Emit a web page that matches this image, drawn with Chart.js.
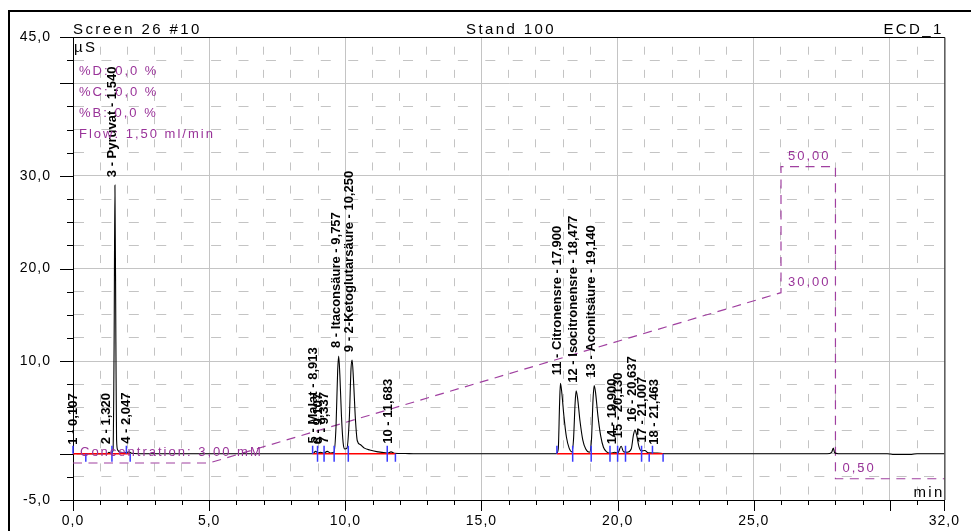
<!DOCTYPE html>
<html>
<head>
<meta charset="utf-8">
<script src="https://cdn.jsdelivr.net/npm/chart.js@4.4.1/dist/chart.umd.min.js"></script>
<style>
  body { margin: 0; background: #fff; }
  canvas { display: block; }
</style>
</head>
<body>
<canvas id="chart" width="971" height="531"></canvas>
<script>
const FONT = "'Liberation Sans', Arial, sans-serif";

// chromatogram trace: retention time (min) and conductivity (µS)
const traceTime = [0, 0.10, 0.20, 1.25, 1.32, 1.38, 1.47, 1.51, 1.54, 1.575, 1.60, 1.64, 1.75, 1.95, 2.05, 2.15, 2.40,
  8.80, 8.91, 9.00, 9.10, 9.20, 9.34, 9.45, 9.58, 9.66, 9.72, 9.757, 9.80, 9.86, 9.92, 9.98,
  10.06, 10.15, 10.21, 10.25, 10.30, 10.37, 10.44, 10.55, 10.70, 10.90, 11.20, 11.55, 11.68, 11.80, 12.20, 12.50,
  17.75, 17.82, 17.87, 17.90, 17.95, 18.03, 18.12, 18.22, 18.32, 18.38, 18.44, 18.477, 18.53, 18.62, 18.72, 18.83, 18.97,
  19.04, 19.10, 19.14, 19.19, 19.28, 19.38, 19.48, 19.60, 19.75, 19.90, 20.00, 20.13, 20.22, 20.35, 20.50, 20.58, 20.637,
  20.70, 20.78, 20.88, 21.00, 21.12, 21.46, 21.70, 27.70, 27.86, 27.92, 27.97, 28.10, 29.90, 30.10, 30.80, 31.00, 32.00];
const traceValue = [0, 0.02, 0, 0, 0.15, 0.05, 0.3, 12, 29.0, 12, 1.5, 0.4, 0.15, 0.1, 0.2, 0.05, 0,
  0, 0.25, 0.08, 0.15, 0.05, 0.25, 0.08, 0.15, 3.0, 9.0, 10.55, 8.5, 4.0, 1.2, 0.5,
  0.6, 4.0, 9.2, 10.1, 8.0, 3.8, 1.4, 1.0, 0.6, 0.4, 0.2, 0.08, 0.2, 0.05, 0.02, 0,
  0, 0.5, 5.5, 7.6, 6.6, 4.0, 1.8, 0.6, 0.2, 1.5, 5.5, 6.8, 6.0, 3.5, 1.5, 0.5, 0.15,
  1.5, 6.0, 7.35, 6.6, 4.0, 1.9, 0.7, 0.2, 0.05, 0.15, 0.05, 0.8, 0.2, 0.15, 0.5, 2.0, 2.55,
  2.0, 0.8, 0.3, 0.35, 0.1, 0.08, 0, 0, 0.15, 0.6, 0.1, 0, 0, -0.08, -0.08, 0, 0];

// identified peaks
const peakTime = [0.107, 1.320, 1.540, 2.047, 8.913, 9.107, 9.337, 9.757, 10.250, 11.683,
  17.900, 18.477, 19.140, 19.900, 20.130, 20.637, 21.007, 21.463];
const peakHeight = [0, 0.15, 29.0, 0.2, 0.25, 0.15, 0.25, 10.55, 10.1, 0.2,
  7.6, 6.8, 7.35, 0.15, 0.8, 2.55, 0.35, 0.08];
const peakName = ['1 - 0,107', '2 - 1,320', '3 - Pyruvat - 1,540', '4 - 2,047', '5 - Malat - 8,913', '6 - 9,107',
  '7 - 9,337', '8 - Itaconsäure - 9,757', '9 - 2-Ketoglutarsäure - 10,250', '10 - 11,683',
  '11 - Citronensre - 17,900', '12 - Isocitronensre - 18,477', '13 - Aconitsäure - 19,140',
  '14 - 19,900', '15 - 20,130', '16 - 20,637', '17 - 21,007', '18 - 21,463'];

// integration delimiters and baselines
const peakStart = [0.0, 1.43, 1.96, 8.80, 8.98, 9.22, 9.59, 10.11, 11.54, 17.77, 18.35, 19.03, 19.72, 20.00, 20.29, 20.88, 21.28];
const peakEnd = [0.47, 1.43, 2.10, 8.98, 9.22, 9.59, 10.11, 11.54, 11.84, 18.35, 19.03, 19.72, 20.00, 20.29, 20.88, 21.16, 21.67];
const baselineFrom = [0.0, 8.80, 17.77];
const baselineTo = [2.10, 11.84, 21.67];

// eluent gradient (mM)
const gradientTime = [0, 5, 26, 26, 28, 28, 32];
const gradientConc = [3, 3, 30, 50, 50, 0.5, 0.5];
const gradientNoteTime = [0, 26, 26, 28];
const gradientNoteConc = [3, 50, 30, 0.5];
const gradientNoteText = ['Concentration: 3,00 mM', '50,00', '30,00', '0,50'];

const methodText = ['%D: 0,0 %', '%C: 0,0 %', '%B: 0,0 %', 'Flow: 1,50 ml/min'];

// axes
const xTickValues = [0, 1, 2, 3, 4, 5, 6, 7, 8, 9, 10, 11, 12, 13, 14, 15, 16, 17, 18, 19, 20, 21, 22, 23, 24, 25, 26, 27, 28, 29, 30, 31, 32];
const xLabelValues = [0, 5, 10, 15, 20, 25, 32];
const yTickValues = [-5, -2.5, 0, 2.5, 5, 7.5, 10, 12.5, 15, 17.5, 20, 22.5, 25, 27.5, 30, 32.5, 35, 37.5, 40, 42.5, 45];
const yLabelValues = [45, 30, 20, 10, -5];

const fmt = v => v.toFixed(1).replace('.', ',');
const xMajor = v => v % 5 === 0 || v === 32;
const yMajor = v => v % 10 === 0 || v === 45 || v === -5;

const trace = traceTime.map((t, i) => ({x: t, y: traceValue[i]}));
const baseline = [];
baselineFrom.forEach((f, i) => {
  baseline.push({x: f, y: 0}, {x: baselineTo[i], y: 0}, {x: baselineTo[i], y: null});
});
const gradient = gradientTime.map((t, i) => ({x: t, y: gradientConc[i]}));

function text(ctx, str, x, y, font, color, spacing, align) {
  ctx.font = font;
  ctx.fillStyle = color;
  ctx.letterSpacing = spacing + 'px';
  ctx.textBaseline = 'alphabetic';
  ctx.textAlign = 'left';
  let w = ctx.measureText(str).width;
  if (align === 'center') x -= w / 2;
  if (align === 'right') x -= w - spacing;
  ctx.fillText(str, x, y);
}

const decor = {
  id: 'decor',
  beforeDraw(chart) {
    chart.ctx.letterSpacing = '1px';
  },
  afterDraw(chart) {
    const {ctx, chartArea: a, scales: {x, y, yC}} = chart;
    ctx.save();
    ctx.letterSpacing = '0px';

    // outer frame
    ctx.strokeStyle = '#000';
    ctx.lineWidth = 2;
    ctx.beginPath();
    ctx.moveTo(9, chart.height);
    ctx.lineTo(9, 11);
    ctx.lineTo(chart.width, 11);
    ctx.stroke();

    // top and right plot border
    ctx.lineWidth = 1;
    ctx.beginPath();
    ctx.moveTo(a.left, a.top + 0.5);
    ctx.lineTo(a.right + 0.5, a.top + 0.5);
    ctx.lineTo(a.right + 0.5, a.bottom);
    ctx.stroke();

    // tick marks
    ctx.beginPath();
    xTickValues.forEach(v => {
      const px = Math.round(x.getPixelForValue(v)) + 0.5;
      ctx.moveTo(px, a.bottom);
      ctx.lineTo(px, a.bottom + (xMajor(v) ? 11 : 5));
    });
    yTickValues.forEach(v => {
      const py = Math.round(y.getPixelForValue(v)) + 0.5;
      ctx.moveTo(a.left, py);
      ctx.lineTo(a.left - (yMajor(v) ? 13 : 6), py);
    });
    ctx.stroke();

    // integration delimiters
    const base = y.getPixelForValue(0);
    ctx.strokeStyle = '#3a3aff';
    ctx.lineWidth = 1.5;
    ctx.beginPath();
    peakStart.forEach(t => {
      const px = x.getPixelForValue(t);
      ctx.moveTo(px, base - 8);
      ctx.lineTo(px, base);
    });
    peakEnd.forEach(t => {
      const px = x.getPixelForValue(t);
      ctx.moveTo(px, base);
      ctx.lineTo(px, base + 8);
    });
    ctx.stroke();

    // peak labels
    peakTime.forEach((t, i) => {
      const px = x.getPixelForValue(t) + 1;
      const py = Math.min(y.getPixelForValue(peakHeight[i]) - 8, base - 9);
      ctx.save();
      ctx.translate(px, py);
      ctx.rotate(-Math.PI / 2);
      text(ctx, peakName[i], 0, 0, 'bold 13px ' + FONT, '#000', 0, 'left');
      ctx.restore();
    });

    // header
    const hf = '15px ' + FONT;
    text(ctx, 'Screen 26 #10', a.left, a.top - 3, hf, '#000', 2.4, 'left');
    text(ctx, 'Stand 100', 511, a.top - 3, hf, '#000', 2.4, 'center');
    text(ctx, 'ECD_1', a.right - 3, a.top - 3, hf, '#000', 2.4, 'right');
    text(ctx, 'µS', a.left + 1, a.top + 15, hf, '#000', 2.4, 'left');
    text(ctx, 'min', a.right - 2, a.bottom - 3, hf, '#000', 2.4, 'right');

    // method info
    methodText.forEach((s, i) => {
      text(ctx, s, a.left + 6, a.top + 38 + i * 21, '13px ' + FONT, '#993399', 2, 'left');
    });

    // gradient notes
    gradientNoteText.forEach((s, i) => {
      text(ctx, s, x.getPixelForValue(gradientNoteTime[i]) + 7, yC.getPixelForValue(gradientNoteConc[i]) - 7,
        '13px ' + FONT, '#993399', 2, 'left');
    });
    ctx.restore();
  }
};

new Chart(document.getElementById('chart'), {
  type: 'line',
  data: {
    datasets: [
      {label: 'Baseline', data: baseline, borderColor: '#ff0000', borderWidth: 1.5, pointRadius: 0, spanGaps: false, order: 0},
      {label: 'ECD_1', data: trace, borderColor: '#000', borderWidth: 1.1, pointRadius: 0, cubicInterpolationMode: 'monotone', order: 1},
      {label: 'Gradient', data: gradient, yAxisID: 'yC', borderColor: '#a040a0', borderWidth: 1.2, borderDash: [9, 6.5], pointRadius: 0, order: 2}
    ]
  },
  options: {
    responsive: false,
    animation: false,
    events: [],
    layout: {padding: {left: 0, right: 21, top: 37, bottom: 0}},
    plugins: {legend: {display: false}, tooltip: {enabled: false}},
    scales: {
      x: {
        type: 'linear', min: 0, max: 32,
        afterBuildTicks: s => { s.ticks = xTickValues.map(v => ({value: v})); },
        afterFit: s => { s.height = 31; },
        ticks: {
          autoSkip: false, maxRotation: 0, padding: 13, color: '#000',
          font: {family: FONT, size: 14},
          callback: v => xLabelValues.includes(v) ? fmt(v) : ''
        },
        grid: {
          drawTicks: false, lineWidth: 1,
          color: c => (c.tick && (c.tick.value === 0 || c.tick.value === 32)) ? 'rgba(0,0,0,0)' : '#c4c4c4'
        },
        border: {
          color: '#000', width: 1,
          dash: c => (c.tick && !xMajor(c.tick.value)) ? [8, 15.15] : [],
          dashOffset: 13.45
        }
      },
      y: {
        min: -5, max: 45,
        afterBuildTicks: s => { s.ticks = yTickValues.map(v => ({value: v})); },
        afterFit: s => { s.width = 73; },
        ticks: {
          autoSkip: false, padding: 22, color: '#000',
          font: {family: FONT, size: 14},
          callback: v => yLabelValues.includes(v) ? fmt(v) : ''
        },
        grid: {
          drawTicks: false, lineWidth: 1,
          color: c => (c.tick && (c.tick.value === 45 || c.tick.value === -5)) ? 'rgba(0,0,0,0)' : '#c4c4c4'
        },
        border: {
          color: '#000', width: 1,
          dash: c => (c.tick && c.tick.value % 10 !== 0) ? [10, 17.42] : []
        }
      },
      yC: {display: false, min: -2.867, max: 70.54}
    }
  },
  plugins: [decor]
});
</script>
</body>
</html>
